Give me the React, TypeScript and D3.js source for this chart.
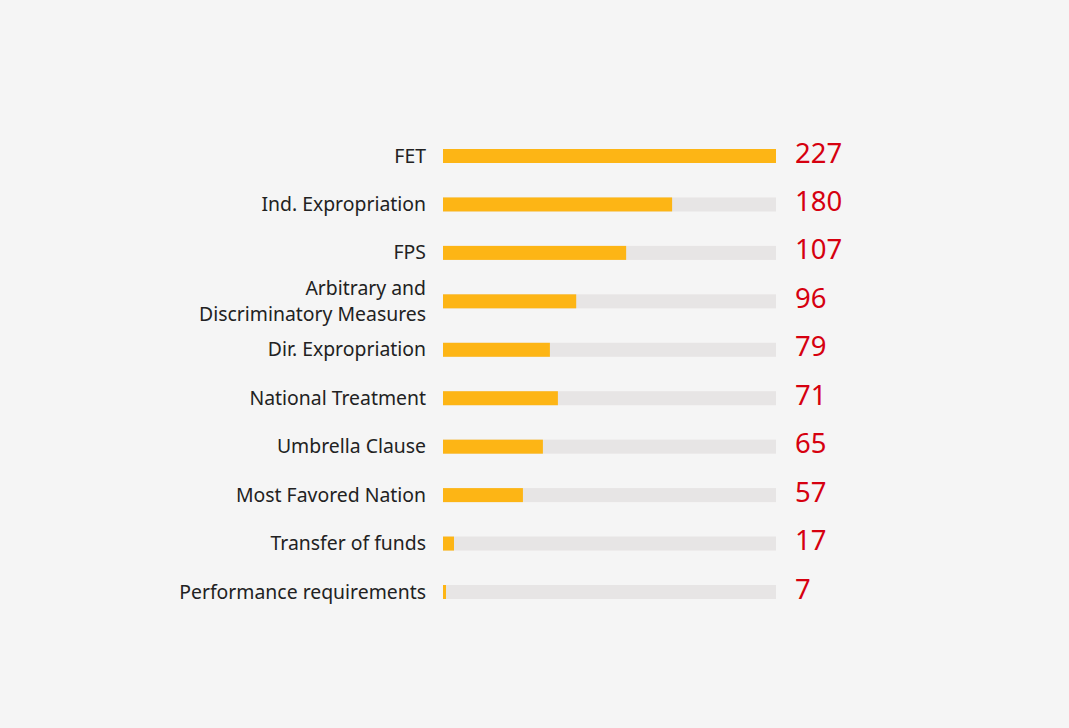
import React from "react";
import * as d3 from "d3";

const categories: string[][] = [
  ["FET"],
  ["Ind. Expropriation"],
  ["FPS"],
  ["Arbitrary and", "Discriminatory Measures"],
  ["Dir. Expropriation"],
  ["National Treatment"],
  ["Umbrella Clause"],
  ["Most Favored Nation"],
  ["Transfer of funds"],
  ["Performance requirements"],
];
const counts: number[] = [227, 180, 107, 96, 79, 71, 65, 57, 17, 7];
// bar fill share (% of track)
const barShare: number[] = [100, 68.8, 55, 40, 32.1, 34.5, 30, 24, 3.3, 0.9];

const W = 1069;
const H = 728;

export default function App() {
  const ids = categories.map((_, i) => String(i));
  const x = d3.scaleLinear().domain([0, 100]).range([443, 776]);
  const y = d3.scalePoint<string>().domain(ids).range([156, 592]);
  const barH = 14;
  const font = "'Noto Sans', sans-serif";

  return (
    <svg
      width={W}
      height={H}
      style={{ position: "absolute", left: 0, top: 0, display: "block" }}
    >
      <rect x={0} y={0} width={W} height={H} fill="#f5f5f5" />
      {ids.map((id, i) => {
        const cy = y(id) as number;
        const lines = categories[i];
        const lh = 26;
        return (
          <g key={id}>
            <rect
              x={x(0)}
              y={cy - barH / 2}
              width={x(100) - x(0)}
              height={barH}
              fill="#e7e5e5"
            />
            <rect
              x={x(0)}
              y={cy - barH / 2}
              width={x(barShare[i]) - x(0)}
              height={barH}
              fill="#fdb515"
            />
            {lines.map((t, j) => (
              <text
                key={j}
                x={426}
                y={cy + 6.5 + (j - (lines.length - 1) / 2) * lh}
                textAnchor="end"
                fontFamily={font}
                fontSize={19.4}
                fill="#222"
              >
                {t}
              </text>
            ))}
            <text
              x={795}
              y={cy + 6.5}
              fontFamily={font}
              fontSize={27.5}
              fill="#d6000f"
            >
              {counts[i]}
            </text>
          </g>
        );
      })}
    </svg>
  );
}
